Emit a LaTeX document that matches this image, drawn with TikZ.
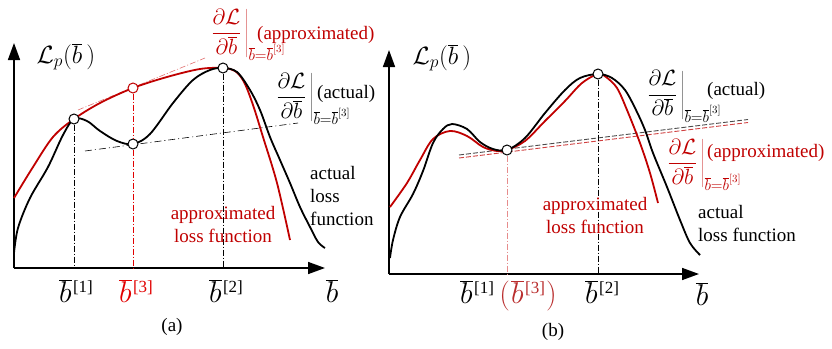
\RequirePackage{fix-cm}
\documentclass[tikz,border=0pt]{standalone}
\usepackage[no-math]{fontspec}
\setmainfont{Liberation Serif}
\newfontfamily\tnr{Liberation Serif}
\usetikzlibrary{arrows.meta}
\definecolor{dred}{RGB}{192,0,0}
\definecolor{bred}{RGB}{225,0,0}
\definecolor{lred}{RGB}{225,110,110}
\definecolor{mred}{RGB}{185,45,45}
\definecolor{pred}{RGB}{230,140,140}
\newcommand{\dLdb}{\displaystyle\left.\frac{\partial\mathcal{L}}{\partial\overline{b}}\,\vrule height 31pt depth 21pt width 0pt\right|_{\overline{b}=\overline{b}^{[3]}}}
\newcommand{\bsup}[1]{$\overline{b}$\kern1.5pt\raisebox{10pt}{\tnr\fontsize{17}{20}\selectfont[#1]}}
\begin{document}
\begin{tikzpicture}[x=1pt,y=-1pt,
  axis/.style={line width=1.6pt,-{Triangle[length=17pt,width=12pt]}},
  curve/.style={line width=1.8pt},
  dd/.style={line width=0.6pt, dash pattern=on 6pt off 2pt on 1pt off 2pt},
  dsh/.style={line width=0.9pt, dash pattern=on 5pt off 2pt},
  pt/.style={circle, draw, line width=1pt, fill=white, inner sep=0pt, minimum size=10pt},
  txt/.style={font={\tnr\fontsize{19}{23}\selectfont}, inner sep=0pt},
  ax/.style={font=\fontsize{30}{34}\selectfont, inner sep=0pt, anchor=base},
  axl/.style={font=\fontsize{25}{30}\selectfont, inner sep=0pt},
  frac/.style={font=\fontsize{22}{26}\selectfont, inner sep=0pt, anchor=base west},
]
\useasboundingbox (0,0) rectangle (832,348);

% ---------------- panel (a)
\coordinate (Oa) at (14,268);
\coordinate (Xa) at (325,268);
\coordinate (Ya) at (14,43);
\draw[axis] (Oa) -- (Xa);
\draw[axis] (Oa) -- (Ya);

\coordinate (ta1) at (78,110); \coordinate (ta2) at (205,58);
\draw[lred, dd] (ta1) -- (ta2);
\coordinate (tb1) at (85,151); \coordinate (tb2) at (298,123);
\draw[black, dd, dash pattern=on 7pt off 3pt on 1pt off 3pt] (tb1) -- (tb2);

\draw[curve, dred] plot[smooth, tension=0.55] coordinates {(14,198) (33,167) (53,137) (74,119) (100,103) (133,88) (167,77) (200,69) (223,68) (235,71) (244,82) (253,105) (263,137) (277,183) (290,240)};
\draw[curve, black] plot[smooth, tension=0.55] coordinates {(14,253) (18,228) (30,198) (48,167) (63,135) (74,119) (87,121) (100,131) (117,141) (133,144) (150,134) (173,103) (193,80) (210,70) (223,68) (237,72) (250,90) (260,110) (270,137) (280,160) (290,183) (300,207) (310,227) (318,242) (325,248)};

\node[pt] (a1) at (74,119) {};
\node[pt, draw=dred] (a3r) at (133,88) {};
\node[pt] (a3) at (133,144) {};
\node[pt] (a2) at (223,68) {};
\draw[dd] (a1) -- (a1 |- Oa);
\draw[dd, bred] (a3r) -- (a3);
\draw[dd, bred] (a3) -- (a3 |- Oa);
\draw[dd] (a2) -- (a2 |- Oa);

\node[frac, dred] (fra) at (210,39) {$\dLdb$};
\node[txt, anchor=base west, dred] (tra) at (257,39) {(approximated)};
\node[frac] (fka) at (275,103) {$\dLdb$};
\node[txt, anchor=base west] (tka) at (317,98) {(actual)};

\node[txt, align=left, anchor=north west] (la) at (310,166) {actual\\loss\\function};
\node[txt, align=center, anchor=north, dred] (lra) at (223,206) {approximated\\loss function};

\node[axl] (ya) at (66,57) {$\mathcal{L}_p(\overline{b}\,)$};
\node[ax] (b1a) at (76,302) {\bsup{1}};
\node[ax, bred] (b3a) at (136,302) {\bsup{3}};
\node[ax] (b2a) at (226,302) {\bsup{2}};
\node[ax] (bxa) at (332,302) {$\overline{b}$};
\node[txt] (capa) at (172,327) {(a)};

% ---------------- panel (b)
\coordinate (Ob) at (389,274);
\coordinate (Xb) at (699,274);
\coordinate (Yb) at (389,50);
\draw[axis] (Ob) -- (Xb);
\draw[axis] (Ob) -- (Yb);

\coordinate (tc1) at (459,155); \coordinate (tc2) at (748,119.5);
\coordinate (td1) at (459,158); \coordinate (td2) at (748,122.5);
\draw[dsh, black!70] (tc1) -- (tc2);
\draw[dsh, dred!75] (td1) -- (td2);

\draw[curve, dred] plot[smooth, tension=0.55] coordinates {(390,207) (407,183) (420,160) (433,139) (450,131) (467,136) (483,147) (497,151) (507,150) (525,141) (545,121) (565,101) (582,83) (598,74) (606,77) (617,88) (627,110) (640,143) (650,173) (658,203)};
\draw[curve, black] plot[smooth, tension=0.55] coordinates {(390,258) (393,240) (400,217) (413,194) (423,171) (433,143) (443,129) (452,124) (467,129) (480,142) (493,149) (507,150) (525,138) (545,113) (565,90) (580,78) (598,74) (612,78) (625,90) (636,110) (645,130) (653,153) (667,187) (680,220) (690,243) (700,255)};

\node[pt] (bv) at (507,150) {};
\node[pt] (bp) at (598,74) {};
\draw[dd, pred] (bv) -- (bv |- Ob);
\draw[dd] (bp) -- (bp |- Ob);

\node[frac] (fkb) at (646,100.5) {$\dLdb$};
\node[txt, anchor=base west] (tkb) at (707,95) {(actual)};
\node[frac, dred] (frb) at (666,169) {$\dLdb$};
\node[txt, anchor=base west, dred] (trb) at (707,157) {(approximated)};

\node[txt, align=center, anchor=north, dred] (lrb) at (595,197) {approximated\\loss function};
\node[txt, align=left, anchor=north west] (lb) at (698,205) {actual\\loss function};

\node[axl] (yb) at (442,58) {$\mathcal{L}_p(\overline{b}\,)$};
\node[ax] (b1b) at (477,303) {\bsup{1}};
\node[ax, mred] (b3b) at (528,303) {$\left(\vrule height 24pt depth 9pt width 0pt\right.$\bsup{3}$\left.\vrule height 24pt depth 9pt width 0pt\right)$};
\node[ax] (b2b) at (602,303) {\bsup{2}};
\node[ax] (bxb) at (702,305) {$\overline{b}$};
\node[txt] (capb) at (553,332) {(b)};
\end{tikzpicture}
\end{document}
